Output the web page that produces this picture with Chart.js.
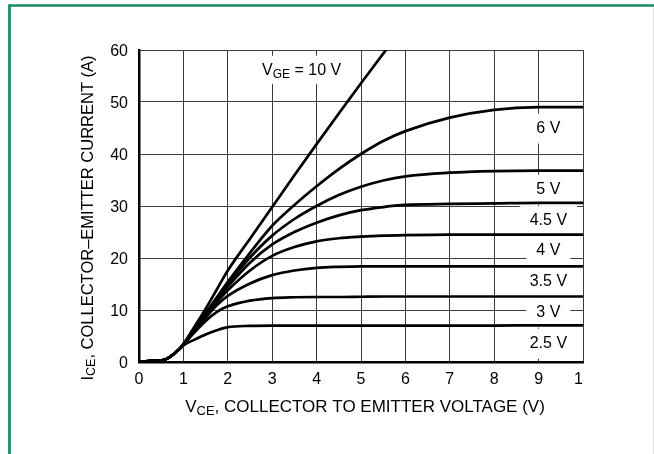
<!DOCTYPE html>
<html>
<head>
<meta charset="utf-8">
<script src="https://cdn.jsdelivr.net/npm/chart.js@4"></script>
<style>
  html, body { margin: 0; padding: 0; background: #fff; }
  canvas { display: block; }
</style>
</head>
<body>
<canvas id="chart" width="654" height="454"></canvas>
<script>
// collector-emitter voltage (V), shared by every curve
var vce = [0, 0.3, 0.55, 0.7, 0.85, 1, 1.25, 1.5, 1.75, 2, 2.5, 3, 3.5, 4, 4.5, 5, 5.5, 6, 7, 8, 9, 10];

// collector current (A) for each gate voltage
var ic10V = [0, 0.2, 0.35, 1.0, 2.0, 3.5, 6.8, 10.2, 13.9, 17.6, 23.7, 29.8, 35.9, 41.9, 47.8, 53.6, 59.3, 65, null, null, null, null];
var ic6V  = [0, 0.2, 0.35, 1.0, 2.0, 3.4, 6.5, 9.4, 12.4, 15.4, 21.0, 26.2, 30.2, 33.8, 37.1, 40.0, 42.5, 44.4, 47.0, 48.5, 49.0, 49.0];
var ic5V  = [0, 0.2, 0.35, 1.0, 2.0, 3.3, 6.4, 9.3, 12.2, 15.0, 20.1, 24.3, 27.5, 30.0, 32.1, 33.7, 34.9, 35.7, 36.4, 36.7, 36.8, 36.8];
var ic45V = [0, 0.2, 0.35, 1.0, 2.0, 3.3, 6.3, 9.1, 11.9, 14.5, 19.1, 22.6, 25.0, 26.8, 28.2, 29.2, 29.8, 30.2, 30.4, 30.5, 30.6, 30.6];
var ic4V  = [0, 0.2, 0.35, 1.0, 2.0, 3.3, 6.2, 8.9, 11.5, 13.8, 17.6, 20.4, 22.1, 23.2, 23.8, 24.1, 24.3, 24.4, 24.5, 24.5, 24.5, 24.5];
var ic35V = [0, 0.2, 0.35, 1.0, 2.0, 3.3, 6.0, 8.5, 10.9, 12.7, 15.1, 16.7, 17.6, 18.1, 18.3, 18.4, 18.4, 18.4, 18.4, 18.4, 18.4, 18.4];
var ic3V  = [0, 0.2, 0.35, 1.0, 2.0, 3.3, 5.7, 7.9, 9.6, 10.7, 11.8, 12.3, 12.45, 12.5, 12.5, 12.55, 12.6, 12.6, 12.6, 12.6, 12.6, 12.6];
var ic25V = [0, 0.2, 0.35, 1.0, 2.0, 3.2, 4.3, 5.3, 6.1, 6.7, 6.95, 7.0, 7.0, 7.0, 7.0, 7.0, 7.0, 7.0, 7.0, 7.0, 7.05, 7.05];

var series = [ic10V, ic6V, ic5V, ic45V, ic4V, ic35V, ic3V, ic25V];

// axis ticks
var xTicks = [0, 1, 2, 3, 4, 5, 6, 7, 8, 9, 10];
var yTicks = [0, 10, 20, 30, 40, 50, 60];

// curve labels (text, and where they sit in data units)
var curveLabels = ['6 V', '5 V', '4.5 V', '4 V', '3.5 V', '3 V', '2.5 V'];
var curveLabelY = [44.9, 33.1, 27.1, 21.4, 15.5, 9.5, 3.5];
var curveLabelX = 9.22;

var FONT = '"Liberation Sans", Arial, Helvetica, sans-serif';
var MAIN = '16px ' + FONT;
var SUB = '12px ' + FONT;

function richWidth(ctx, parts, main, sub) {
  var w = 0;
  parts.forEach(function(p) {
    ctx.font = p.sub ? sub : main;
    w += ctx.measureText(p.t).width;
  });
  return w;
}

function drawRich(ctx, parts, x, y, align, main, sub) {
  main = main || MAIN;
  sub = sub || SUB;
  var w = richWidth(ctx, parts, main, sub);
  var cx = align === 'center' ? x - w / 2 : x;
  ctx.textAlign = 'left';
  ctx.textBaseline = 'middle';
  ctx.fillStyle = '#000';
  parts.forEach(function(p) {
    ctx.font = p.sub ? sub : main;
    ctx.fillText(p.t, cx, y + (p.sub ? 4 : 0));
    cx += ctx.measureText(p.t).width;
  });
}

var annotate = {
  id: 'annotate',
  beforeDatasetsDraw: function(chart) {
    var ctx = chart.ctx, xs = chart.scales.x, ys = chart.scales.y;
    ctx.save();
    // label boxes knock out the grid behind them
    var vge = [{t: 'V'}, {t: 'GE', sub: true}, {t: ' = 10 V'}];
    var lx = xs.getPixelForValue(2.77), ly = ys.getPixelForValue(56);
    var w = richWidth(ctx, vge, MAIN, SUB);
    ctx.fillStyle = '#fff';
    ctx.fillRect(lx - 5, ly - 15, w + 10, 28);
    drawRich(ctx, vge, lx, ly, 'left');

    ctx.font = MAIN;
    curveLabels.forEach(function(t, i) {
      var px = xs.getPixelForValue(curveLabelX), py = ys.getPixelForValue(curveLabelY[i]);
      var tw = ctx.measureText(t).width;
      ctx.fillStyle = '#fff';
      ctx.fillRect(px - tw / 2 - 10, py - 15, tw + 20, 30);
      ctx.fillStyle = '#000';
      ctx.textAlign = 'center';
      ctx.textBaseline = 'middle';
      ctx.fillText(t, px, py);
    });
    ctx.restore();
  },
  afterDraw: function(chart) {
    var ctx = chart.ctx;
    ctx.save();
    // axis titles with subscripts
    drawRich(ctx, [{t: 'V'}, {t: 'CE', sub: true}, {t: ', COLLECTOR TO EMITTER VOLTAGE (V)'}], 365, 407, 'center',
      '17px ' + FONT, '13px ' + FONT);
    ctx.translate(88, 218);
    ctx.rotate(-Math.PI / 2);
    drawRich(ctx, [{t: 'I'}, {t: 'CE', sub: true}, {t: ', COLLECTOR\u2013EMITTER CURRENT (A)'}], 0, 0, 'center',
      '16.5px ' + FONT, '12.5px ' + FONT);
    ctx.restore();

    // green frame
    ctx.save();
    ctx.strokeStyle = '#168a5c';
    ctx.lineWidth = 2.7;
    ctx.beginPath();
    ctx.moveTo(9.5, 454);
    ctx.lineTo(9.5, 5.5);
    ctx.lineTo(654, 5.5);
    ctx.stroke();
    ctx.strokeStyle = '#e4e4e4';
    ctx.lineWidth = 1;
    ctx.beginPath();
    ctx.moveTo(653.5, 7);
    ctx.lineTo(653.5, 454);
    ctx.stroke();
    ctx.restore();
  }
};

var tickFont = {family: FONT, size: 16};

new Chart(document.getElementById('chart'), {
  type: 'line',
  data: {
    datasets: series.map(function(arr) {
      return {
        data: vce.map(function(v, i) { return {x: v, y: arr[i]}; }),
        borderColor: '#000',
        borderWidth: 2.7,
        pointRadius: 0,
        fill: false,
        cubicInterpolationMode: 'monotone',
        spanGaps: false
      };
    })
  },
  options: {
    responsive: false,
    animation: false,
    devicePixelRatio: 1,
    layout: {padding: {top: 50, right: 71, left: 0, bottom: 0}},
    plugins: {legend: {display: false}, tooltip: {enabled: false}},
    scales: {
      x: {
        type: 'linear', min: 0, max: 10,
        afterFit: function(s) { s.height = 92; },
        afterBuildTicks: function(s) { s.ticks = xTicks.map(function(v) { return {value: v}; }); },
        ticks: {
          font: tickFont, color: '#000', padding: 8, maxRotation: 0, autoSkip: false,
          callback: function(v) { return v === 10 ? '1\u2007' : String(v); }
        },
        grid: {color: '#3c3c3c', lineWidth: 1, drawTicks: false},
        border: {color: '#000', width: 2.5}
      },
      y: {
        type: 'linear', min: 0, max: 60,
        afterFit: function(s) { s.width = 139; },
        afterBuildTicks: function(s) { s.ticks = yTicks.map(function(v) { return {value: v}; }); },
        ticks: {font: tickFont, color: '#000', padding: 11, labelOffset: 2},
        grid: {color: '#3c3c3c', lineWidth: 1, drawTicks: false},
        border: {color: '#000', width: 2.5}
      }
    }
  },
  plugins: [annotate]
});
</script>
</body>
</html>
